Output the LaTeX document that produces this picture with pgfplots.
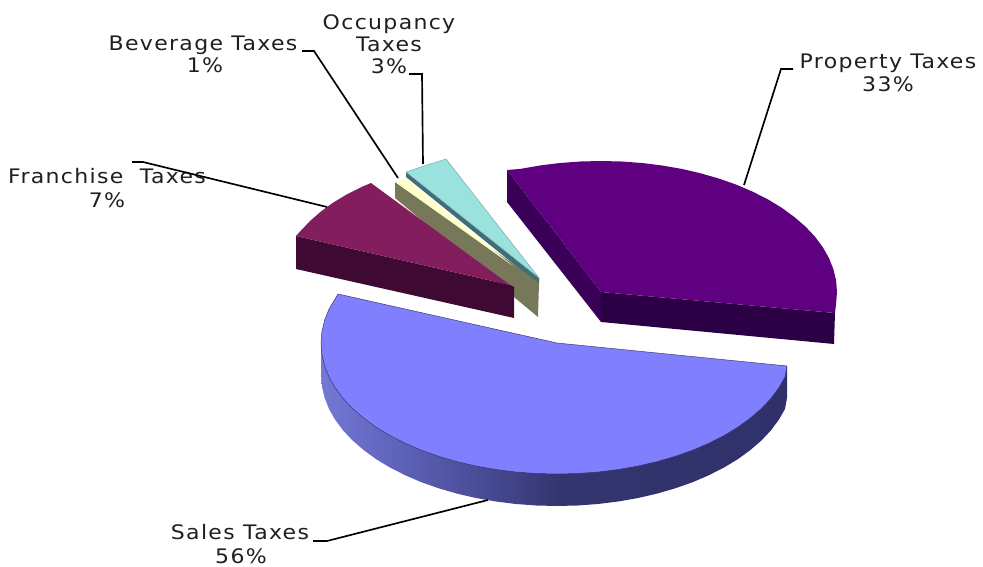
\documentclass[border=0pt]{standalone}
\usepackage{pgfplots}
\usepackage{fontspec}
\setmainfont[LetterSpace=6]{DejaVu Sans}
\pgfplotsset{compat=1.18}

\definecolor{propTop}{HTML}{5E0080}
\definecolor{propFront}{HTML}{2C0044}
\definecolor{propSide}{HTML}{3A0058}
\definecolor{salesTop}{HTML}{8080FF}
\definecolor{salesEdge}{HTML}{34346E}
\definecolor{franTop}{HTML}{821E5E}
\definecolor{franSide}{HTML}{3E0A33}
\definecolor{bevTop}{HTML}{FFFFCC}
\definecolor{bevSide}{HTML}{77775A}
\definecolor{occTop}{HTML}{99E2DE}
\definecolor{occSide}{HTML}{3F6F74}
\definecolor{sa}{HTML}{7478D6}
\definecolor{sb}{HTML}{5E62B8}
\definecolor{sc}{HTML}{44478E}
\definecolor{sd}{HTML}{33356F}
\definecolor{se}{HTML}{30316A}
\pgfdeclarehorizontalshading{salesside}{100bp}{
  color(0bp)=(sa); color(25bp)=(sa); color(33.5bp)=(sb); color(44bp)=(sc);
  color(50.6bp)=(sd); color(75bp)=(se); color(100bp)=(se)}

\tikzset{lab/.style={font=\fontsize{15}{17}\selectfont, text=black!88, inner sep=0pt, anchor=base}}
\newcommand{\lbl}[1]{\scalebox{1.1}[1]{#1}}

\begin{document}
\begin{tikzpicture}
\begin{axis}[
    scale only axis,
    width=737.25pt,
    height=425.25pt,
    xmin=0, xmax=983,
    ymin=0, ymax=567,
    y dir=reverse,
    axis line style={draw=none},
    ticks=none,
    clip=false,
]
% property taxes, 33%
\addplot[fill=propSide, draw=none] coordinates {(507,170) (601,292) (601,322) (507,202)};
\addplot[fill=propFront, draw=none] coordinates {(601,292) (835,313) (834,344) (601,322)};
\addplot[fill=propTop, draw=none] coordinates {
    (507,170) (520.3,168.9) (539.9,165.5) (560,163) (580.4,161.5) (601,161) (621.6,161.5)
    (642,163) (662.1,165.5) (681.7,168.9) (700.7,173.3) (719,178.6) (736.4,184.7) (752.7,191.7)
    (767.9,199.4) (781.8,207.8) (794.3,217) (805.4,226.5) (814.9,236.6) (822.8,247.2) (829,258.1)
    (833.4,269.3) (836.1,280.6) (837,292) (836.1,303.4) (835,313) (601,292)};

% sales taxes, 56%
\addplot[shading=salesside, draw=none] coordinates {
    (321,343) (321,375) (321.9,386.4) (324.6,397.7) (329,409) (335.2,419.8) (343.1,430.4) (352.6,440.5)
    (363.7,450.1) (376.2,459.2) (390.1,467.6) (405.3,475.3) (421.6,482.3) (439,488.4) (457.3,493.7)
    (476.3,498.1) (495.9,501.5) (516,504) (536.4,505.5) (557,506) (577.6,505.5) (598,504) (618.1,501.5)
    (637.7,498.1) (656.7,493.7) (675,488.4) (692.4,482.3) (708.7,475.3) (723.9,467.6) (737.8,459.2)
    (750.3,450.1) (761.4,440.5) (770.9,430.4) (778.8,419.8) (785,409) (787,398) (787,366)};
\addplot[fill=salesTop, draw=salesEdge, line width=0.35pt, line join=round] coordinates {
    (338,294) (329,309.1) (324.6,320.2) (321.9,331.6) (321,343) (321.9,354.4) (324.6,365.7) (329,376.9)
    (335.2,387.8) (343.1,398.4) (352.6,408.5) (363.7,418.1) (376.2,427.2) (390.1,435.6) (405.3,443.3)
    (421.6,450.3) (439,456.4) (457.3,461.7) (476.3,466.1) (495.9,469.5) (516,472) (536.4,473.5) (557,474)
    (577.6,473.5) (598,472) (618.1,469.5) (637.7,466.1) (656.7,461.7) (675,456.4) (692.4,450.3)
    (708.7,443.3) (723.9,435.6) (737.8,427.2) (750.3,418.1) (761.4,408.5) (770.9,398.4) (778.8,387.8)
    (785,376.9) (787,366) (557,343) (338,294)} -- cycle;

% occupancy taxes, 3%
\addplot[fill=occSide, draw=none] coordinates {(406,172) (406,177) (537,283) (539,284) (539,278)};
\addplot[fill=occTop, draw=occSide!70, line width=0.3pt] coordinates {(406,172) (427,165) (446,159) (539,278)} -- cycle;

% beverage taxes, 1%
\addplot[fill=bevSide, draw=none] coordinates {(395,182) (395,198) (538,317) (539,283) (512,263)};
\addplot[fill=bevTop, draw=none] coordinates {(395,182) (405,178) (513,266)};

% franchise taxes, 7%
\addplot[fill=franSide, draw=none] coordinates {(296,236) (510,285) (514,287) (514,318) (296,269)};
\addplot[fill=franTop, draw=none] coordinates {
    (296,236) (300.6,230.9) (310,221) (320.8,211.6) (333,202.7) (346.7,194.5) (361.5,187) (371,183) (510,285)};

% labels
\node[lab] at (axis cs:888,69) {\lbl{Property Taxes}};
\node[lab] at (axis cs:888,92) {\lbl{33\%}};
\node[lab] at (axis cs:240,539) {\lbl{Sales Taxes}};
\node[lab] at (axis cs:241,563) {\lbl{56\%}};
\node[lab] at (axis cs:107,184) {\lbl{Franchise\ \ Taxes}};
\node[lab] at (axis cs:107,207) {\lbl{7\%}};
\node[lab] at (axis cs:203,51) {\lbl{Beverage Taxes}};
\node[lab] at (axis cs:205,73) {\lbl{1\%}};
\node[lab] at (axis cs:389,30) {\lbl{Occupancy}};
\node[lab] at (axis cs:389,52) {\lbl{Taxes}};
\node[lab] at (axis cs:389,74) {\lbl{3\%}};

% leader lines
\addplot[black, line width=1.25pt] coordinates {(793,69) (781,69) (744,185)};
\addplot[black, line width=1.25pt] coordinates {(313,541) (327,541) (488,500)};
\addplot[black, line width=1.25pt] coordinates {(132,162) (143,162) (327,207)};
\addplot[black, line width=1.25pt] coordinates {(302,51) (314,51) (398,178)};
\addplot[black, line width=1.25pt] coordinates {(409,74) (422,74) (423,164)};
\end{axis}
\end{tikzpicture}
\end{document}
